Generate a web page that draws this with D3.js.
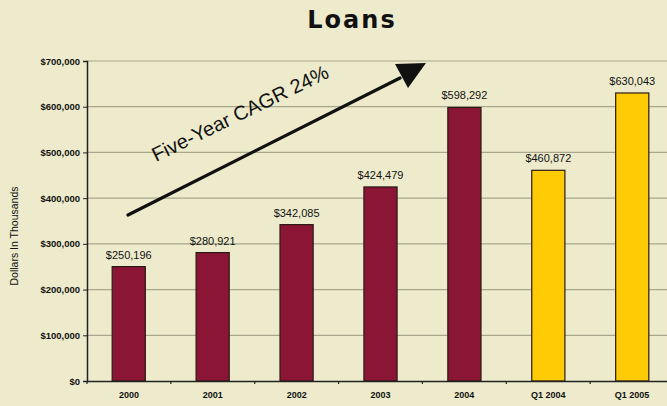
<!DOCTYPE html>
<html>
<head>
<meta charset="utf-8">
<script src="https://cdn.jsdelivr.net/npm/d3@7"></script>
<style>
  html, body { margin: 0; padding: 0; background: #edebcc; }
  svg { display: block; }
  text { font-family: "Liberation Sans", Arial, sans-serif; fill: #111; }
</style>
</head>
<body>
<svg id="chart" width="667" height="406"></svg>
<script>
// Loans, in thousands of dollars
const categories = ["2000", "2001", "2002", "2003", "2004", "Q1 2004", "Q1 2005"];
const loans = [250196, 280921, 342085, 424479, 598292, 460872, 630043];
const quarterly = [false, false, false, false, false, true, true];
const yTicks = [0, 100000, 200000, 300000, 400000, 500000, 600000, 700000];

const svg = d3.select("#chart");
const W = 667, H = 406;
const plotLeft = 87, plotBottom = 381, plotTop = 61;
const plotRight = 674; // plot extends slightly past the right edge of the frame

svg.append("rect").attr("width", W).attr("height", H).attr("fill", "#edebcc");

const x = d3.scaleBand().domain(categories).range([plotLeft, plotRight]).paddingInner(0.605).paddingOuter(0.3);
const xCat = d3.scaleBand().domain(categories).range([plotLeft, plotRight]);
const y = d3.scaleLinear().domain([0, 700000]).range([plotBottom, plotTop]);

// horizontal gridlines
svg.append("g").selectAll("line").data(yTicks.filter(d => d > 0)).join("line")
  .attr("x1", plotLeft).attr("x2", W)
  .attr("y1", d => y(d)).attr("y2", d => y(d))
  .attr("stroke", "#a8a78c").attr("stroke-width", 1.2);

// y axis
const yAxis = svg.append("g").attr("transform", `translate(${plotLeft},0)`)
  .call(d3.axisLeft(y).tickValues(yTicks).tickFormat(d3.format("$,")).tickSize(4).tickPadding(3));
yAxis.select(".domain").attr("stroke", "#222").attr("stroke-width", 1.5);
yAxis.selectAll(".tick line").attr("stroke", "#222");
yAxis.selectAll("text").attr("font-size", 9.5).attr("font-weight", "bold").attr("fill", "#111")
  .style("font-family", "'Liberation Sans', Arial, sans-serif");

// bars
svg.append("g").selectAll("rect").data(categories).join("rect")
  .attr("x", d => x(d))
  .attr("width", x.bandwidth())
  .attr("y", (d, i) => y(loans[i]))
  .attr("height", (d, i) => plotBottom - y(loans[i]))
  .attr("fill", (d, i) => quarterly[i] ? "#fecb05" : "#8a1534")
  .attr("stroke", "#2a1a14").attr("stroke-width", 1.2);

// x axis
const xAxis = svg.append("g").attr("transform", `translate(0,${plotBottom})`)
  .call(d3.axisBottom(xCat).tickSize(0).tickPadding(11));
xAxis.select(".domain").attr("stroke", "#222").attr("stroke-width", 1.5);
xAxis.selectAll("text").attr("font-size", 9).attr("font-weight", "bold").attr("fill", "#111")
  .style("font-family", "'Liberation Sans', Arial, sans-serif");
// small tick marks between categories
svg.append("g").selectAll("line").data(categories).join("line")
  .attr("x1", d => xCat(d)).attr("x2", d => xCat(d))
  .attr("y1", plotBottom).attr("y2", plotBottom + 3)
  .attr("stroke", "#222").attr("stroke-width", 1.2);

// value labels
svg.append("g").selectAll("text").data(categories).join("text")
  .attr("x", d => x(d) + x.bandwidth() / 2)
  .attr("y", (d, i) => y(loans[i]) - 8)
  .attr("text-anchor", "middle")
  .attr("font-size", 11)
  .text((d, i) => d3.format("$,")(loans[i]));

// title
svg.append("text").attr("x", 352).attr("y", 28).attr("text-anchor", "middle")
  .attr("font-size", 24).attr("font-weight", "bold").attr("letter-spacing", 2)
  .style("font-family", "'DejaVu Sans', Verdana, sans-serif")
  .text("Loans");

// y axis title
svg.append("text").attr("transform", "translate(18,236) rotate(-90)")
  .attr("text-anchor", "middle").attr("font-size", 10.5)
  .text("Dollars In Thousands");

// growth arrow
svg.append("line").attr("x1", 128).attr("y1", 215).attr("x2", 400).attr("y2", 78)
  .attr("stroke", "#111").attr("stroke-width", 3.2).attr("stroke-linecap", "round");
svg.append("path").attr("d", "M395,64 L426,63 L408,88 Z").attr("fill", "#111");

svg.append("text").attr("transform", "translate(156,162) rotate(-26)")
  .attr("font-size", 20).attr("fill", "#111")
  .text("Five-Year CAGR 24%");
</script>
</body>
</html>
